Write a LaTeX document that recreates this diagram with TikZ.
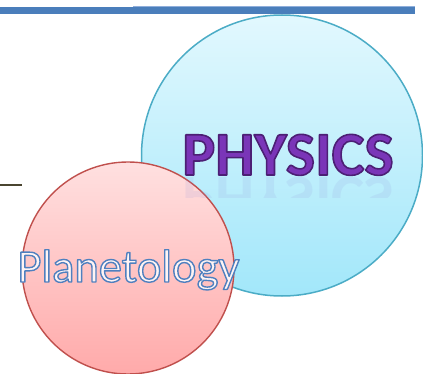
\documentclass[tikz,border=0pt]{standalone}
\usepackage{fontspec}
\setmainfont{Carlito}
\definecolor{barblue}{HTML}{4A7EBB}
\definecolor{bartop}{HTML}{8FAEDB}
\definecolor{cyantop}{HTML}{E2F8FE}
\definecolor{cyanbot}{HTML}{A2E7FA}
\definecolor{cyanline}{HTML}{4BACC6}
\definecolor{pinktop}{HTML}{FFE0E0}
\definecolor{pinkbot}{HTML}{FFAAAA}
\definecolor{redline}{HTML}{C0504D}
\definecolor{phyfill}{HTML}{7A35B8}
\definecolor{planfill}{HTML}{FFF4F4}
\definecolor{darkolive}{HTML}{4A4530}
\definecolor{reflcol}{HTML}{8C8FD8}
% text drawn with fill and stroke (render mode 2)
\newcommand\strokedtext[4]{{\color{#1}\special{pdf:literal direct 2 Tr #3 w 1 j #2 RG}#4\special{pdf:literal direct 0 Tr}}}
\tikzset{
  bigcircle/.style={circle, minimum size=281pt, inner sep=0pt, draw=cyanline, line width=1.5pt, top color=cyantop, bottom color=cyanbot},
  smallcircle/.style={circle, minimum size=212pt, inner sep=0pt, draw=redline, line width=1.4pt, top color=pinktop, bottom color=pinkbot},
  phytext/.style={font=\bfseries\fontsize{62}{62}\selectfont, inner sep=0pt},
  plantext/.style={font=\fontsize{46.5}{46.5}\selectfont, inner sep=0pt},
}
\begin{document}
\begin{tikzpicture}[x=1pt,y=-1pt]
\useasboundingbox (0,0) rectangle (423,374);
\fill[white] (0,0) rectangle (423,374);
% top bar
\fill[barblue] (0,7) rectangle (133,14.5);
\fill[barblue] (133,6) rectangle (415,14.5);
\draw[bartop, line width=0.8pt] (133,6.4) -- (415,6.4);
% small dark line
\draw[darkolive, line width=2pt] (0,185.5) -- (22,185.5);
% circles
\node[bigcircle] (phys) at (282,155.5) {};
\node[smallcircle] (plan) at (128,268) {};
% PHYSICS reflection
\begin{scope}
  \clip (170,178) rectangle (400,198);
  \node[phytext, anchor=north, text=reflcol, text opacity=0.13] (physrefl) at (288,177) {\scalebox{1}[-1]{PHYSICS}};
\end{scope}
% labels
\node[phytext, anchor=base] (physlabel) at (288,175) {\strokedtext{phyfill}{0.30 0.12 0.46}{1.6}{PHYSICS}};
\node[plantext, anchor=base] (planlabel) at (128.5,282) {\strokedtext{planfill}{0.31 0.50 0.75}{1.4}{Planetology}};
\end{tikzpicture}
\end{document}
